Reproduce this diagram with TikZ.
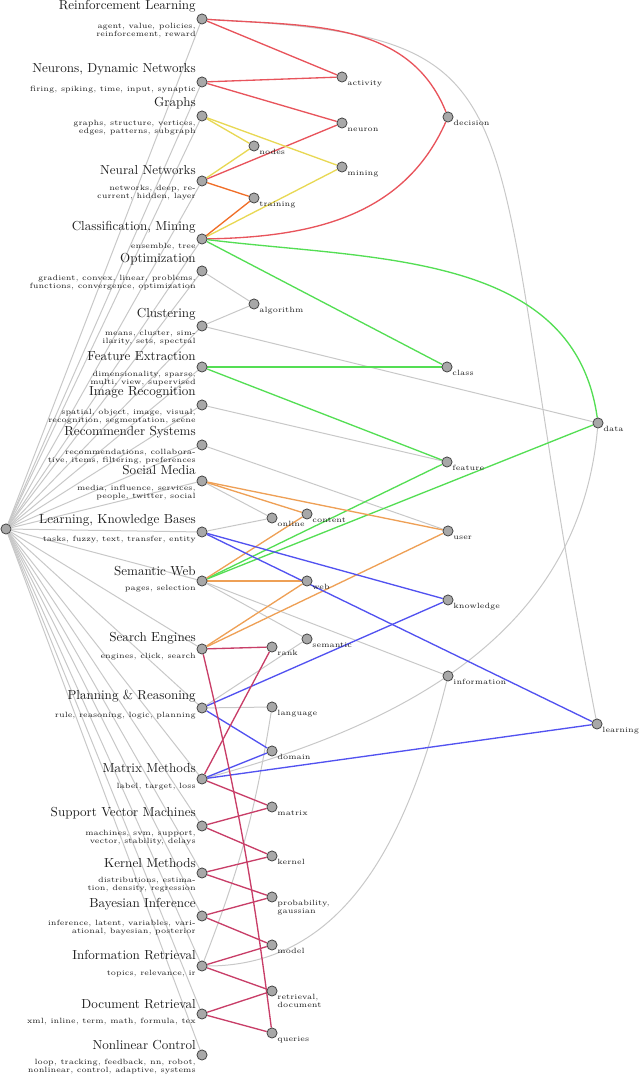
\documentclass[tikz,border=0pt]{standalone}
\usepackage{fontspec}
\newfontfamily\kwfont{lmroman5-regular.otf}
\usetikzlibrary{backgrounds}
\definecolor{cgray}{RGB}{200,200,200}
\definecolor{cred}{RGB}{232,84,92}
\definecolor{cyel}{RGB}{232,216,84}
\definecolor{corg}{RGB}{240,110,40}
\definecolor{cgrn}{RGB}{84,222,84}
\definecolor{clor}{RGB}{238,160,86}
\definecolor{cblu}{RGB}{82,82,240}
\definecolor{ccri}{RGB}{200,62,104}
\definecolor{dotfill}{RGB}{168,168,168}
\definecolor{dotdraw}{RGB}{70,70,70}
\definecolor{txt}{RGB}{30,30,30}
\tikzset{
  dot/.style={circle,minimum size=7.6pt,inner sep=0pt,fill=dotfill,draw=dotdraw,line width=0.6pt},
  ttl/.style={anchor=base east,inner sep=0pt,text=txt,font=\fontsize{9.8}{11}\selectfont},
  kw/.style={anchor=north east,inner sep=0pt,align=right,text=txt,font=\kwfont\fontsize{5.7}{5.7}\selectfont},
  lbl/.style={anchor=base west,inner sep=0pt,align=left,text=txt,font=\kwfont\fontsize{5.7}{5.7}\selectfont},
  lbltwo/.style={anchor=north west,inner sep=0pt,align=left,text=txt,font=\kwfont\fontsize{5.7}{5.7}\selectfont},
  gr/.style={draw=cgray,line width=0.75pt},
  rd/.style={draw=cred,line width=1pt},
  yl/.style={draw=cyel,line width=1pt},
  og/.style={draw=corg,line width=1pt},
  gn/.style={draw=cgrn,line width=1pt},
  lo/.style={draw=clor,line width=1pt},
  bl/.style={draw=cblu,line width=1pt},
  cr/.style={draw=ccri,line width=1pt},
}
\begin{document}
\begin{tikzpicture}[x=0.75pt,y=0.75pt]
\useasboundingbox (0,0) rectangle (640,1077);
% root
\node[dot] (root) at (6,548) {};
% topic nodes
\foreach \id/\y in {rl/1058,neu/995,gra/961,nn/896,cls/838,opt/806,clu/751,fe/710,img/672,rec/632,sm/596,lkb/545,sw/496,se/428,pr/369,mm/298,svm/251,km/204,bi/161,inr/111,dr/63,nc/22}{
  \node[dot] (\id) at (202,\y) {};
}
% titles
\node[ttl] (rl-t) at (196,1067) {Reinforcement Learning};
\node[ttl] (neu-t) at (196,1004) {Neurons, Dynamic Networks};
\node[ttl] (gra-t) at (196,970.3) {Graphs};
\node[ttl] (nn-t) at (196,902.7) {Neural Networks};
\node[ttl] (cls-t) at (196,846.6) {Classification, Mining};
\node[ttl] (opt-t) at (196,814.3) {Optimization};
\node[ttl] (clu-t) at (196,759.3) {Clustering};
\node[ttl] (fe-t) at (196,716.6) {Feature Extraction};
\node[ttl] (img-t) at (196,681.3) {Image Recognition};
\node[ttl] (rec-t) at (196,641) {Recommender Systems};
\node[ttl] (sm-t) at (196,602) {Social Media};
\node[ttl] (lkb-t) at (196,553.7) {Learning, Knowledge Bases};
\node[ttl] (sw-t) at (196,501.3) {Semantic Web};
\node[ttl] (se-t) at (196,435.7) {Search Engines};
\node[ttl] (pr-t) at (196,377) {Planning \& Reasoning};
\node[ttl] (mm-t) at (196,304) {Matrix Methods};
\node[ttl] (svm-t) at (196,260) {Support Vector Machines};
\node[ttl] (km-t) at (196,209) {Kernel Methods};
\node[ttl] (bi-t) at (196,169) {Bayesian Inference};
\node[ttl] (inr-t) at (196,117) {Information Retrieval};
\node[ttl] (dr-t) at (196,68) {Document Retrieval};
\node[ttl] (nc-t) at (196,27) {Nonlinear Control};
% keywords
\foreach \id/\t in {rl/{agent, value, policies,\\reinforcement, reward},
  neu/{firing, spiking, time, input, synaptic},
  gra/{graphs, structure, vertices,\\edges, patterns, subgraph},
  nn/{networks, deep, re-\\current, hidden, layer},
  cls/{ensemble, tree},
  opt/{gradient, convex, linear, problems,\\functions, convergence, optimization},
  clu/{means, cluster, sim-\\ilarity, sets, spectral},
  fe/{dimensionality, sparse,\\multi, view, supervised},
  img/{spatial, object, image, visual,\\recognition, segmentation, scene},
  rec/{recommendations, collabora-\\tive, items, filtering, preferences},
  sm/{media, influence, services,\\people, twitter, social},
  lkb/{tasks, fuzzy, text, transfer, entity},
  sw/{pages, selection},
  se/{engines, click, search},
  pr/{rule, reasoning, logic, planning},
  mm/{label, target, loss},
  svm/{machines, svm, support,\\vector, stability, delays},
  km/{distributions, estima-\\tion, density, regression},
  bi/{inference, latent, variables, vari-\\ational, bayesian, posterior},
  inr/{topics, relevance, ir},
  dr/{xml, inline, term, math, formula, tex},
  nc/{loop, tracking, feedback, nn, robot,\\nonlinear, control, adaptive, systems}}{
  \node[kw] (\id-k) at ([xshift=-4.5pt,yshift=-3.15pt]\id.center) {\t};
}
% term nodes
\foreach \id/\x/\y in {activity/342/1000, neuron/342/954, nodes/254/931, mining/342/910, training/254/879, decision/448/960, algorithm/254/773, class/447/710, data/598/654, feature/447/615, online/272/559, content/307/563, user/448/546, web/307/496, knowledge/448/477, semantic/307/438, rank/272/430, information/448/401, language/272/370, learning/597/353, domain/272/326, matrix/272/270, kernel/272/221, model/272/132, queries/272/44}{
  \node[dot] (\id) at (\x,\y) {};
  \node[lbl] (\id-l) at ([xshift=3.9pt,yshift=-6.4pt]\id.center) {\id};
}
\node[dot] (probability) at (272,180) {};
\node[lbltwo] (probability-l) at ([xshift=3.9pt,yshift=-2.4pt]probability.center) {probability,\\gaussian};
\node[dot] (retrieval) at (272,86) {};
\node[lbltwo] (retrieval-l) at ([xshift=3.9pt,yshift=-2.4pt]retrieval.center) {retrieval,\\document};
\begin{scope}[on background layer]
% root edges
\foreach \id in {rl,neu,gra,nn,cls,opt,clu,fe,img,rec,sm,lkb,sw,se,pr,mm,svm,km,bi,inr,dr,nc}{
  \draw[gr] (root) -- (\id);
}
% gray edges
\draw[gr] (rl) .. controls (561,1039) and (473,991) .. (learning);
\draw[gr] (opt) -- (algorithm);
\draw[gr] (clu) -- (algorithm);
\draw[gr] (clu) -- (data);
\draw[gr] (img) -- (feature);
\draw[gr] (rec) -- (user);
\draw[gr] (sm) -- (online);
\draw[gr] (lkb) -- (online);
\draw[gr] (sw) -- (semantic);
\draw[gr] (sw) -- (information);
\draw[gr] (pr) -- (semantic);
\draw[gr] (pr) -- (language);
\draw[gr] (mm) to[out=15,in=-95] (data);
\draw[gr] (inr) to[out=0,in=-104] (information);
\draw[gr] (inr) to[bend right=6] (language);
% red
\draw[rd] (rl) -- (activity);
\draw[rd] (rl) to[out=-4,in=112] (decision);
\draw[rd] (neu) -- (activity);
\draw[rd] (neu) -- (neuron);
\draw[rd] (nn) -- (neuron);
\draw[rd] (cls) to[out=1,in=-114] (decision);
% yellow
\draw[yl] (gra) -- (nodes);
\draw[yl] (gra) -- (mining);
\draw[yl] (nn) -- (nodes);
\draw[yl] (cls) -- (mining);
% orange
\draw[og] (nn) -- (training);
\draw[og] (cls) -- (training);
% green
\draw[gn] (cls) -- (class);
\draw[gn] (cls) to[out=-7,in=98] (data);
\draw[gn] (fe) -- (class);
\draw[gn] (fe) -- (feature);
\draw[gn] (sw) -- (feature);
\draw[gn] (sw) -- (data);
% light orange
\draw[lo] (sm) -- (content);
\draw[lo] (sm) -- (user);
\draw[lo] (sw) -- (content);
\draw[lo] (sw) -- (web);
\draw[lo] (se) -- (web);
\draw[lo] (se) -- (user);
% blue
\draw[bl] (lkb) -- (knowledge);
\draw[bl] (lkb) -- (learning);
\draw[bl] (pr) -- (knowledge);
\draw[bl] (pr) -- (domain);
\draw[bl] (mm) -- (domain);
\draw[bl] (mm) -- (learning);
% crimson
\draw[cr] (se) -- (rank);
\draw[cr] (se) to[bend left=3] (queries);
\draw[cr] (mm) -- (rank);
\draw[cr] (mm) -- (matrix);
\draw[cr] (svm) -- (matrix);
\draw[cr] (svm) -- (kernel);
\draw[cr] (km) -- (kernel);
\draw[cr] (km) -- (probability);
\draw[cr] (bi) -- (probability);
\draw[cr] (bi) -- (model);
\draw[cr] (inr) -- (model);
\draw[cr] (inr) -- (retrieval);
\draw[cr] (dr) -- (retrieval);
\draw[cr] (dr) -- (queries);
\end{scope}
\end{tikzpicture}
\end{document}
